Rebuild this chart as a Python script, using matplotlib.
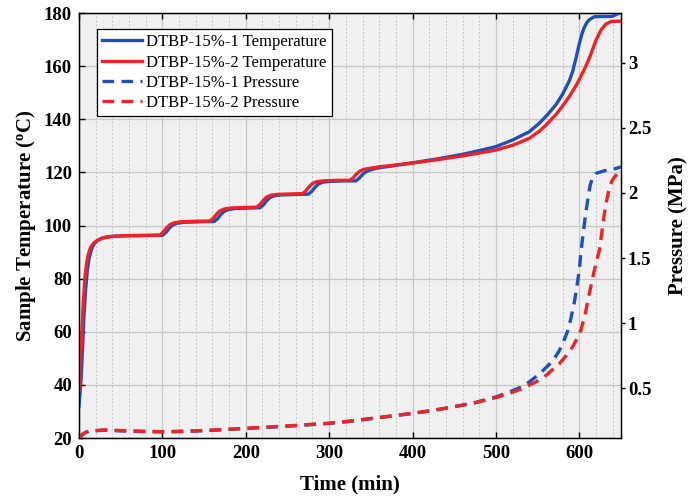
import matplotlib
matplotlib.use("Agg")
import matplotlib.pyplot as plt
from matplotlib.ticker import MultipleLocator

plt.rcParams['font.family'] = ['Liberation Serif', 'DejaVu Serif']
plt.rcParams['mathtext.fontset'] = 'custom'
plt.rcParams['mathtext.rm'] = 'Liberation Serif'
plt.rcParams['mathtext.bf'] = 'Liberation Serif:bold'

# ---- data ----
t_T1 = [0, 1, 2.5, 4, 6, 8, 10, 12, 15, 18, 22, 27, 35, 50, 75, 100,
        104, 108, 112, 117, 125, 145, 162,
        166, 170, 174, 179, 187, 205, 217,
        221, 225, 229, 234, 242, 260, 275,
        279, 283, 287, 292, 300, 318, 332,
        336, 340, 344, 349, 357, 375, 400, 430, 460, 480, 500, 520, 540,
        552, 562, 572, 580, 588, 592, 596, 600, 603, 606, 609, 612, 618,
        628, 638, 642, 646, 650]
T1 = [32, 36, 42, 52, 66, 76, 83, 87.5, 91, 93, 94.3, 95.2, 95.8, 96.1, 96.2, 96.3,
      97.3, 98.9, 100.1, 100.8, 101.2, 101.4, 101.5,
      102.5, 104.1, 105.3, 106, 106.4, 106.6, 106.7,
      107.7, 109.3, 110.5, 111.2, 111.5, 111.7, 111.8,
      112.8, 114.4, 115.6, 116.3, 116.6, 116.8, 116.8,
      117.8, 119.2, 120.2, 120.9, 121.6, 122.4, 123.6, 125.1, 126.8, 128.2, 129.7, 132.2, 135.3,
      138.5, 141.8, 145.5, 149.5, 154.5, 158, 163, 168.5, 172, 174.6, 176.4, 177.5, 178.6,
      178.7, 178.7, 179.1, 179.7, 180.2]

t_T2 = [0, 1, 2, 3.5, 5, 7, 9, 11, 14, 18, 23, 30, 40, 60, 97,
        101, 105, 109, 114, 122, 140, 157,
        161, 165, 169, 174, 182, 200, 213,
        217, 221, 225, 230, 238, 255, 268,
        272, 276, 280, 285, 293, 310, 325,
        329, 333, 337, 342, 350, 360, 375, 400, 430, 460, 480, 500, 520, 540,
        552, 560, 572, 580, 588, 594, 600, 606, 612, 616, 620, 626, 632,
        638, 644, 650]
T2 = [38, 43, 50, 60, 70, 80, 85.5, 89, 91.8, 93.5, 94.6, 95.4, 95.9, 96.2, 96.4,
      97.5, 99.1, 100.3, 101, 101.4, 101.6, 101.7,
      102.7, 104.3, 105.5, 106.2, 106.6, 106.8, 106.9,
      107.9, 109.5, 110.7, 111.4, 111.7, 111.9, 112,
      113, 114.6, 115.8, 116.5, 116.8, 117, 117,
      118, 119.5, 120.5, 121.2, 121.6, 122.1, 122.6, 123.5, 124.8, 126.2, 127.3, 128.4, 130.2, 132.8,
      135.5, 137.8, 141.8, 145, 148.6, 151.6, 155, 158.8, 163, 166.4, 169.8, 173.6, 175.9,
      176.8, 176.9, 176.9]

t_P1 = [0, 3, 7, 12, 30, 50, 75, 100, 125, 150, 175, 200, 225, 250, 275, 300,
        325, 350, 375, 400, 425, 450, 475, 500, 515, 530, 540, 548, 556, 564,
        570, 576, 581, 586, 590, 594, 597, 600, 602, 605, 608, 610, 613, 616,
        620, 630, 640, 650]
P1 = [0.12, 0.14, 0.16, 0.172, 0.18, 0.175, 0.17, 0.167, 0.17, 0.176, 0.184, 0.193, 0.202, 0.211, 0.221, 0.232,
      0.248, 0.268, 0.288, 0.308, 0.332, 0.36, 0.392, 0.435, 0.47, 0.51, 0.55, 0.59, 0.635, 0.685,
      0.73, 0.79, 0.86, 0.94, 1.04, 1.16, 1.28, 1.41, 1.55, 1.71, 1.86, 1.94, 2.06, 2.12,
      2.15, 2.17, 2.18, 2.2]

t_P2 = [0, 3, 7, 12, 30, 50, 75, 100, 125, 150, 175, 200, 225, 250, 275, 300,
        325, 350, 375, 400, 425, 450, 475, 500, 515, 530, 548, 560, 568, 576,
        584, 592, 597, 602, 607, 612, 616, 620, 624, 627, 630, 633, 636, 639,
        642, 646, 650]
P2 = [0.12, 0.14, 0.16, 0.174, 0.182, 0.177, 0.172, 0.169, 0.172, 0.178, 0.186, 0.195, 0.204, 0.213, 0.223, 0.234,
      0.25, 0.27, 0.29, 0.31, 0.333, 0.36, 0.39, 0.43, 0.46, 0.495, 0.55, 0.6, 0.645, 0.69,
      0.75, 0.82, 0.88, 0.95, 1.07, 1.23, 1.35, 1.46, 1.56, 1.7, 1.84, 1.95, 2.04, 2.09,
      2.12, 2.15, 2.17]

labels = ['DTBP-15%-1 Temperature', 'DTBP-15%-2 Temperature',
          'DTBP-15%-1 Pressure', 'DTBP-15%-2 Pressure']

blue = '#1f4fb8'
red = '#ee2228'

fig = plt.figure(figsize=(6.97, 4.97), dpi=100)
ax = fig.add_axes([0.1133, 0.1187, 0.7777, 0.8551])
ax.set_facecolor('#f0f0f0')

l1, = ax.plot(t_T1, T1, color=blue, lw=2.4, zorder=3)
l2, = ax.plot(t_T2, T2, color=red, lw=2.4, zorder=3)

ax.set_xlim(0, 650)
ax.set_ylim(20, 180)
ax.xaxis.set_major_locator(MultipleLocator(100))
ax.xaxis.set_minor_locator(MultipleLocator(20))
ax.yaxis.set_major_locator(MultipleLocator(20))
ax.grid(True, which='major', color='#c8c8c8', lw=0.9, zorder=0)
ax.grid(True, which='minor', axis='x', color='#c4c4c4', lw=0.7, ls=(0, (2, 2)), zorder=0)
ax.set_axisbelow(True)
ax.tick_params(which='major', direction='in', length=4, width=1,
               labelsize=13.5, top=True, pad=5)
ax.tick_params(which='minor', length=0)
for lab in ax.get_xticklabels() + ax.get_yticklabels():
    lab.set_fontweight('bold')
for s in ax.spines.values():
    s.set_linewidth(1.0)

ax.set_xlabel('Time (min)', fontsize=15, fontweight='bold', labelpad=9)
ax.set_ylabel(r'Sample Temperature ($\mathbf{^o}$C)', fontsize=15,
              fontweight='bold', labelpad=4)

ax2 = ax.twinx()
l3, = ax2.plot(t_P1, P1, color=blue, lw=2.4, ls=(0, (3.5, 2.2)))
l4, = ax2.plot(t_P2, P2, color=red, lw=2.4, ls=(0, (3.5, 2.2)))
ax2.set_ylim(0.12, 3.38)
ax2.set_yticks([0.5, 1, 1.5, 2, 2.5, 3])
ax2.set_yticklabels(['0.5', '1', '1.5', '2', '2.5', '3'])
ax2.tick_params(direction='out', length=3, width=1, labelsize=13.5, pad=2)
for lab in ax2.get_yticklabels():
    lab.set_fontweight('bold')
ax2.set_ylabel('Pressure (MPa)', fontsize=15, fontweight='bold', labelpad=12)

leg = ax2.legend([l1, l2, l3, l4], labels, loc='upper left',
                 bbox_to_anchor=(0.033, 0.962), fontsize=12, frameon=True,
                 fancybox=False, edgecolor='black', framealpha=1,
                 handlelength=2.4, handletextpad=0.25, labelspacing=0.26,
                 borderpad=0.3, borderaxespad=0)
leg.get_frame().set_linewidth(0.9)

fig.savefig('out.png', dpi=100)
